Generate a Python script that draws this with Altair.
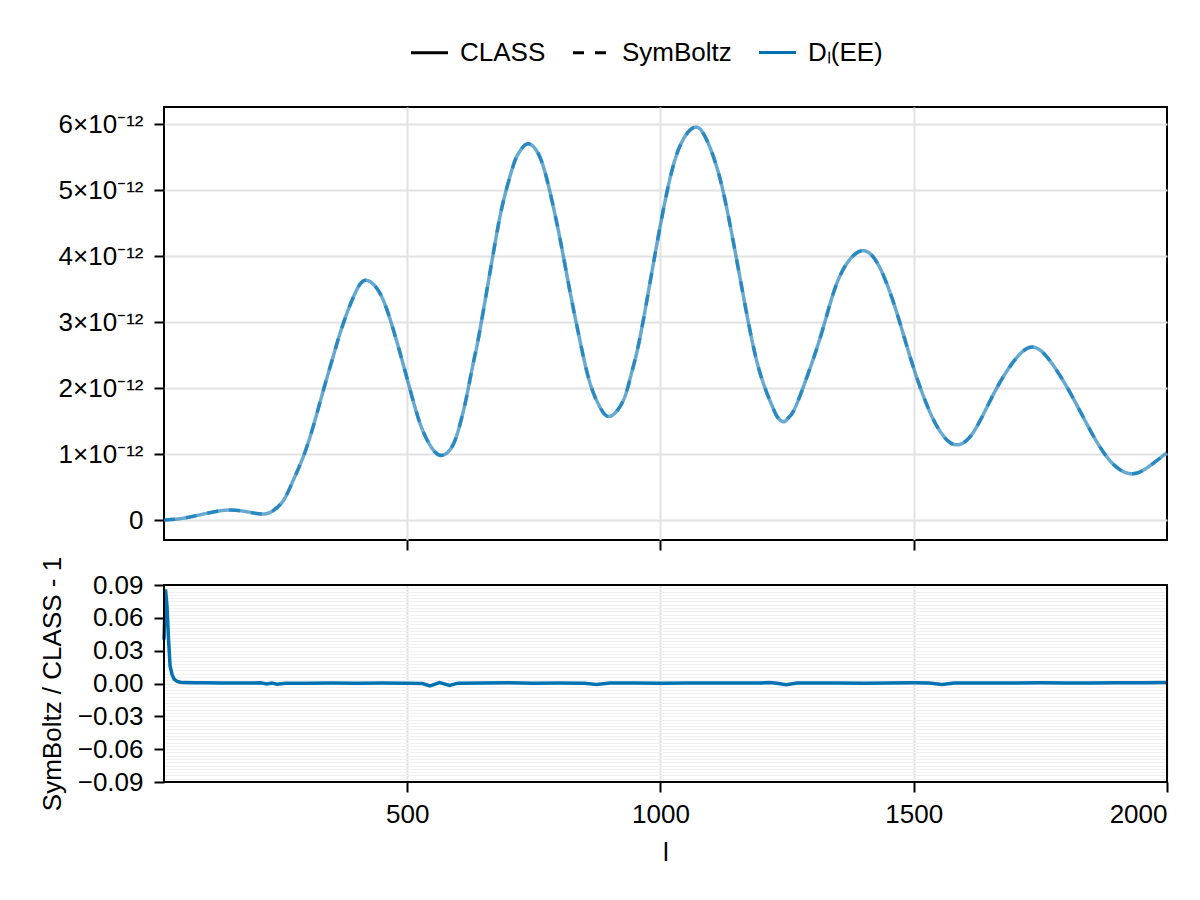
import altair as alt
import pandas as pd

FONT = "Liberation Sans"
BLUE = "#0072B2"

# ---- D_l(EE) spectrum (values in units of 1e-12) ----
ell = [20, 40, 60, 80, 110, 144, 180, 213, 235, 256, 275, 295, 315, 334, 354, 374,
       400, 421, 446, 466, 482, 500, 515, 528, 541, 555, 569, 584, 597, 610, 620, 633,
       643, 670, 689, 709, 721, 739, 762, 781, 801, 821, 840, 860, 880, 900, 926, 942,
       959, 985, 1011, 1037, 1067, 1090, 1116, 1142, 1169, 1195, 1221, 1231, 1243,
       1254, 1267, 1294, 1320, 1346, 1373, 1402, 1432, 1465, 1497, 1530, 1557, 1583,
       1616, 1655, 1694, 1734, 1773, 1813, 1852, 1892, 1931, 1964, 2000]
dl_class = [0.00, 0.01, 0.03, 0.06, 0.11, 0.15, 0.13, 0.09, 0.14, 0.30, 0.60, 0.96,
            1.43, 1.95, 2.48, 2.98, 3.48, 3.63, 3.44, 3.05, 2.64, 2.14, 1.72, 1.41,
            1.19, 1.03, 0.98, 1.06, 1.26, 1.62, 1.97, 2.47, 2.85, 4.04, 4.80, 5.36,
            5.57, 5.70, 5.50, 5.00, 4.29, 3.48, 2.76, 2.10, 1.72, 1.57, 1.80, 2.20,
            2.74, 3.84, 4.90, 5.64, 5.95, 5.78, 5.22, 4.29, 3.18, 2.27, 1.72, 1.56,
            1.49, 1.56, 1.72, 2.27, 2.88, 3.54, 3.94, 4.08, 3.84, 3.18, 2.37, 1.67,
            1.29, 1.14, 1.31, 1.87, 2.37, 2.62, 2.37, 1.87, 1.31, 0.86, 0.70, 0.81, 1.02]
dl_symboltz = [0.00, 0.01, 0.03, 0.06, 0.11, 0.15, 0.13, 0.09, 0.14, 0.30, 0.60, 0.96,
               1.43, 1.95, 2.48, 2.98, 3.48, 3.63, 3.44, 3.05, 2.64, 2.14, 1.72, 1.41,
               1.19, 1.03, 0.98, 1.06, 1.26, 1.62, 1.97, 2.47, 2.85, 4.04, 4.80, 5.36,
               5.57, 5.70, 5.50, 5.00, 4.29, 3.48, 2.76, 2.10, 1.72, 1.57, 1.80, 2.20,
               2.74, 3.84, 4.90, 5.64, 5.95, 5.78, 5.22, 4.29, 3.18, 2.27, 1.72, 1.56,
               1.49, 1.56, 1.72, 2.27, 2.88, 3.54, 3.94, 4.08, 3.84, 3.18, 2.37, 1.67,
               1.29, 1.14, 1.31, 1.87, 2.37, 2.62, 2.37, 1.87, 1.31, 0.86, 0.70, 0.81, 1.02]

# ---- relative difference SymBoltz / CLASS - 1 ----
ratio_ell = [20, 23, 26, 29, 32, 36, 40, 46, 52, 60, 80, 100, 130, 160, 190, 210,
             223, 233, 243, 260, 300, 350, 400, 450, 500, 530, 545, 564, 584, 600,
             650, 700, 750, 800, 850, 874, 900, 950, 1000, 1050, 1100, 1150, 1200,
             1215, 1230, 1248, 1270, 1300, 1350, 1400, 1450, 1500, 1530, 1556, 1580,
             1600, 1650, 1700, 1750, 1800, 1850, 1900, 1950, 2000]
ratio_vals = [0.040, 0.086, 0.070, 0.040, 0.016, 0.008, 0.004, 0.002, 0.0012, 0.0008,
              0.0006, 0.0006, 0.0005, 0.0005, 0.0005, 0.0006, -0.0005, 0.0004, -0.0006,
              0.0002, 0.0003, 0.0005, 0.0003, 0.0005, 0.0002, 0.0000, -0.0022, 0.0008,
              -0.0018, 0.0003, 0.0004, 0.0006, 0.0003, 0.0005, 0.0002, -0.0010, 0.0004,
              0.0005, 0.0003, 0.0005, 0.0004, 0.0004, 0.0005, 0.0010, 0.0003, -0.0012,
              0.0004, 0.0005, 0.0004, 0.0003, 0.0005, 0.0006, 0.0004, -0.0008, 0.0004,
              0.0005, 0.0004, 0.0005, 0.0006, 0.0004, 0.0005, 0.0006, 0.0007, 0.0008]

codes = ["CLASS", "SymBoltz"]
quantity = "Dₗ(EE)"
top_ticks = [0, 1e-12, 2e-12, 3e-12, 4e-12, 5e-12, 6e-12]
bottom_ticks = [-0.09, -0.06, -0.03, 0.0, 0.03, 0.06, 0.09]
minor_ticks = [round(-0.09 + 0.003 * i, 4) for i in range(61)]
x_ticks = [500, 1000, 1500, 2000]

n = len(ell)
top_df = pd.DataFrame({
    "l": ell + ell,
    "D": [v * 1e-12 for v in dl_class] + [v * 1e-12 for v in dl_symboltz],
    "code": [codes[0]] * n + [codes[1]] * n,
    "q": [quantity] * (2 * n),
})
ratio_df = pd.DataFrame({"l": ratio_ell, "r": ratio_vals})

xscale = alt.Scale(domain=[20, 2000], nice=False, zero=False)

top = alt.Chart(top_df).mark_line(
    strokeWidth=3.5, opacity=0.6, interpolate="natural"
).encode(
    x=alt.X("l:Q", scale=xscale,
            axis=alt.Axis(values=x_ticks[:3], labels=False, title=None)),
    y=alt.Y("D:Q",
            scale=alt.Scale(domain=[-0.303e-12, 6.258e-12], nice=False, zero=False),
            axis=alt.Axis(values=top_ticks, title=None, labelPadding=11,
                          labelExpr="datum.value == 0 ? '0' : round(datum.value*1e12) + '×10⁻¹²'")),
    strokeDash=alt.StrokeDash(
        "code:N",
        scale=alt.Scale(domain=codes, range=[[1, 0], [11, 11]]),
        legend=alt.Legend(orient="none", legendX=245, legendY=-75, direction="horizontal",
                          title=None, symbolType="stroke", symbolStrokeColor="black",
                          symbolStrokeWidth=3, symbolSize=1370, symbolOpacity=1,
                          labelOffset=10, columnPadding=20)),
    color=alt.Color(
        "q:N",
        scale=alt.Scale(domain=[quantity], range=[BLUE]),
        legend=alt.Legend(orient="none", legendX=593, legendY=-75, direction="horizontal",
                          title=None, symbolType="stroke", symbolStrokeWidth=3,
                          symbolSize=1370, symbolOpacity=1, labelOffset=10)),
).properties(width=1003, height=433)

yb = alt.Scale(domain=[-0.09, 0.09], nice=False, zero=False)
x_bottom_axis = alt.Axis(values=x_ticks, title="l", format="d", labelPadding=9,
                         titlePadding=12)

minor = alt.Chart(ratio_df).mark_line(opacity=0).encode(
    x=alt.X("l:Q", scale=xscale, axis=x_bottom_axis),
    y=alt.Y("r:Q", scale=yb,
            axis=alt.Axis(values=minor_ticks, orient="right", labels=False, ticks=False,
                          domain=False, title=None, gridColor="#f1f1f1", gridWidth=1)),
)
ratio_line = alt.Chart(ratio_df).mark_line(strokeWidth=3.5, color=BLUE).encode(
    x=alt.X("l:Q", scale=xscale, axis=x_bottom_axis),
    y=alt.Y("r:Q", scale=yb,
            axis=alt.Axis(values=bottom_ticks, format=".2f", orient="left",
                          labelPadding=11, titlePadding=12,
                          title="SymBoltz / CLASS - 1")),
)
frame = alt.Chart(pd.DataFrame({"frame": [0]})).mark_rect(
    fill=None, stroke="black", strokeWidth=2
).encode(x=alt.value(0), x2=alt.value("width"), y=alt.value(0), y2=alt.value("height"))

bottom = alt.layer(minor, ratio_line, frame).resolve_axis(y="independent").properties(
    width=1003, height=197)

chart = alt.vconcat(top, bottom, spacing=3).properties(
    padding={"left": 30, "top": 24, "right": 5, "bottom": 5}
).configure(font=FONT).configure_view(
    stroke="black", strokeWidth=2
).configure_axis(
    labelFontSize=26, titleFontSize=26, labelFont=FONT, titleFont=FONT,
    labelColor="black", titleColor="black", titleFontWeight="normal",
    domain=False, tickColor="black", tickWidth=2, tickSize=10,
    gridColor="#e2e2e2", gridWidth=2
).configure_legend(
    labelFontSize=26, labelFont=FONT, labelColor="black"
)

chart.save("out.html", embed_options={"renderer": "svg", "actions": False})
